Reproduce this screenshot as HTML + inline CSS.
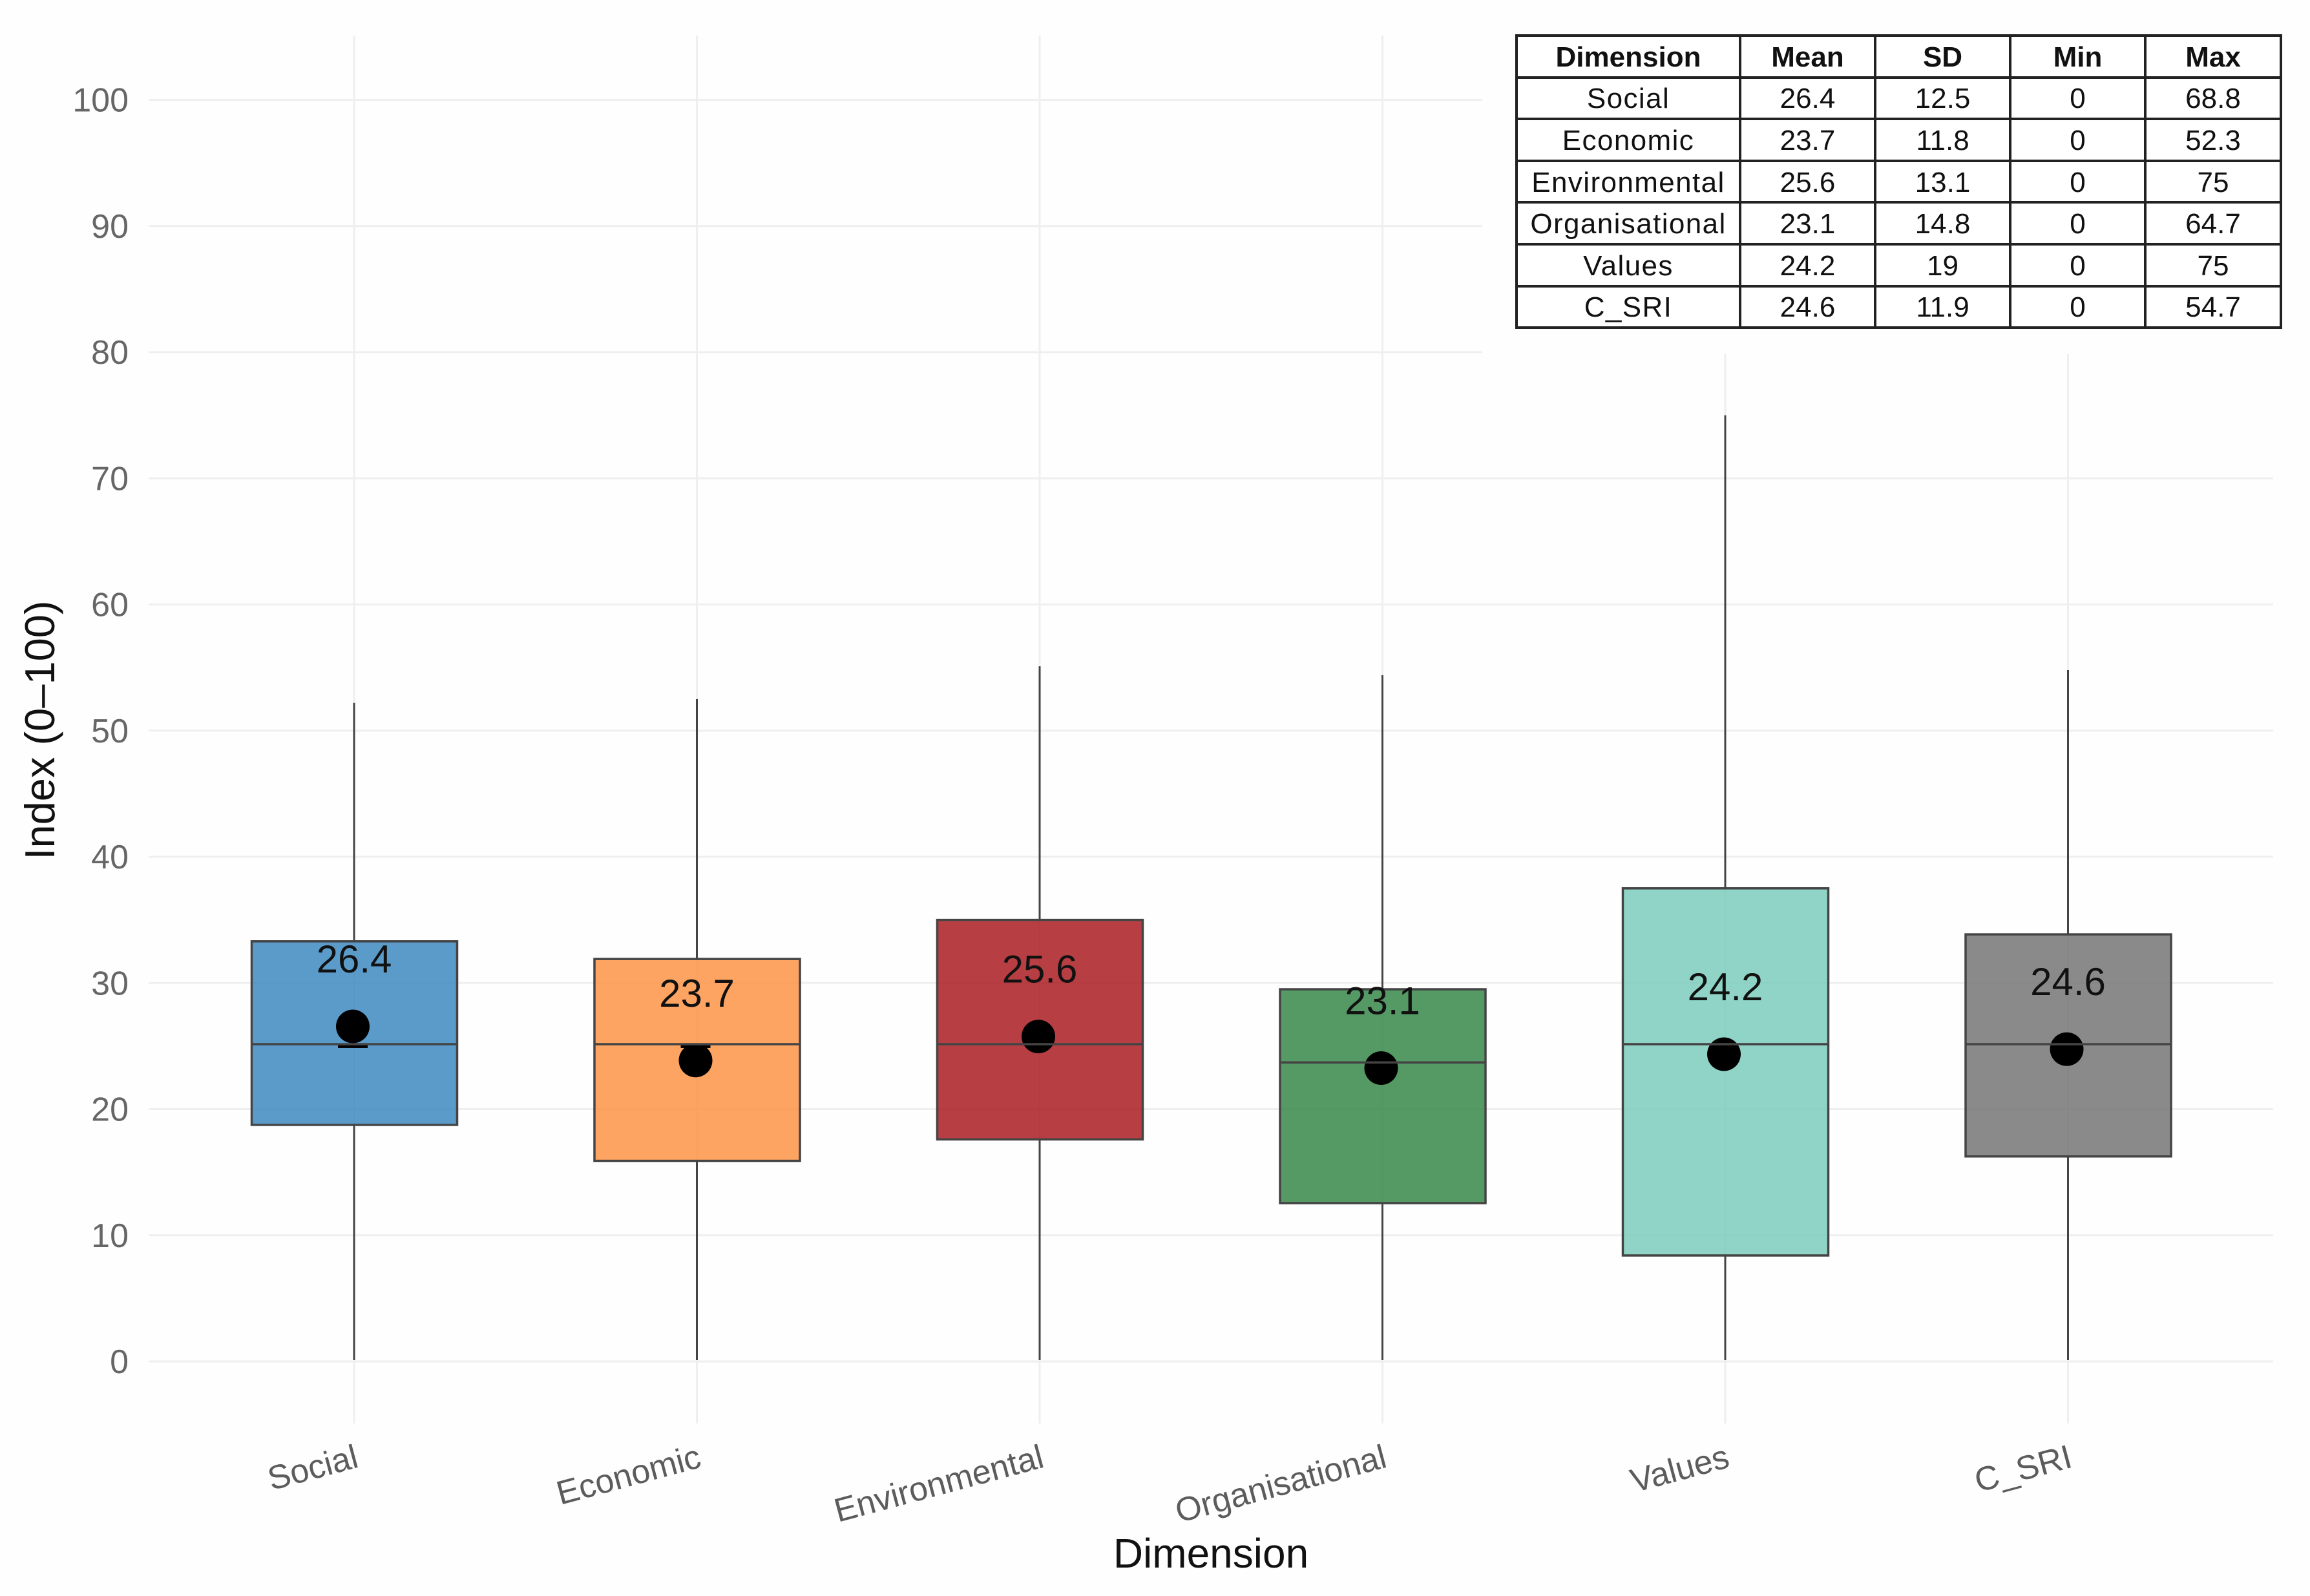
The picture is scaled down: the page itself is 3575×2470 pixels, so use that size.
<!DOCTYPE html>
<html lang="en">
<head>
<meta charset="utf-8">
<title>Index by dimension boxplot</title>
<style>
html,body{margin:0;padding:0;background:#fefefe;}
#stage{position:relative;width:3575px;height:2470px;overflow:hidden;background:#fefefe;font-family:"Liberation Sans",sans-serif;}
#chart{position:absolute;left:0;top:0;}
#table-mask{position:absolute;left:2294px;top:0;width:1281px;height:548px;background:#fefefe;}
#summary-table{position:absolute;left:2345px;top:53px;width:1183px;border-collapse:collapse;table-layout:fixed;background:#fff;color:#111;font-family:"Liberation Sans",sans-serif;font-size:44px;}
#summary-table td,#summary-table th{border:4px solid #222;padding:3px 0 0 0;text-align:center;height:57.6px;line-height:44px;white-space:nowrap;overflow:hidden;}
#summary-table th{font-weight:bold;}
#summary-table td:first-child{letter-spacing:1.4px;}
</style>
</head>
<body>
<div id="stage">
<svg id="chart" width="3575" height="2470" viewBox="0 0 3575 2470" xmlns="http://www.w3.org/2000/svg"></svg>
<div id="table-mask"></div>
<table id="summary-table">
<colgroup><col style="width:346px"><col style="width:209px"><col style="width:209px"><col style="width:209px"><col style="width:210px"></colgroup>
<tr><th>Dimension</th><th>Mean</th><th>SD</th><th>Min</th><th>Max</th></tr>
<tr><td>Social</td><td>26.4</td><td>12.5</td><td>0</td><td>68.8</td></tr>
<tr><td>Economic</td><td>23.7</td><td>11.8</td><td>0</td><td>52.3</td></tr>
<tr><td>Environmental</td><td>25.6</td><td>13.1</td><td>0</td><td>75</td></tr>
<tr><td>Organisational</td><td>23.1</td><td>14.8</td><td>0</td><td>64.7</td></tr>
<tr><td>Values</td><td>24.2</td><td>19</td><td>0</td><td>75</td></tr>
<tr><td>C_SRI</td><td>24.6</td><td>11.9</td><td>0</td><td>54.7</td></tr>
</table>
</div>
<script>
const categories = ["Social", "Economic", "Environmental", "Organisational", "Values", "C_SRI"];
const whiskerLow = [0, 0, 0, 0, 0, 0];
const q1 = [18.75, 15.9, 17.6, 12.55, 8.4, 16.25];
const medians = [25.15, 25.15, 25.15, 23.7, 25.15, 25.15];
const q3 = [33.3, 31.9, 35, 29.5, 37.5, 33.85];
const whiskerHigh = [52.2, 52.5, 55.1, 54.4, 75, 54.8];
const means = [26.4, 23.7, 25.6, 23.1, 24.2, 24.6];
const meanLabels = ["26.4", "23.7", "25.6", "23.1", "24.2", "24.6"];
const yTicks = [0, 10, 20, 30, 40, 50, 60, 70, 80, 90, 100];
const fills = ["#3182bd", "#fd8d3c", "#a50f15", "#2a7f3e", "#74c9b9", "#6d6d6d"];

const NS = "http://www.w3.org/2000/svg";
const svg = document.getElementById("chart");
function xPos(i) { return 548 + i * 530.5; }
function yPos(v) { return 2107 - v * 19.525; }
function slug(s) { return s.toLowerCase().replace(/_/g, "-"); }
function make(tag, attrs, text) {
  const el = document.createElementNS(NS, tag);
  for (const k in attrs) el.setAttribute(k, attrs[k]);
  if (text !== undefined) el.textContent = text;
  svg.appendChild(el);
  return el;
}

yTicks.forEach(function (t) {
  const line = make("line", { x1: 230, x2: 3518, y1: yPos(t), y2: yPos(t), stroke: "#efefef", "stroke-width": 3 });
  
  
  const label = make("text", { x: 199, y: yPos(t) + 18, "text-anchor": "end", "font-size": 52, fill: "#666666" }, String(t));
  
  
});

categories.forEach(function (c, i) {
  const grid = make("line", { x1: xPos(i), x2: xPos(i), y1: 55, y2: 2203, stroke: "#efefef", "stroke-width": 3 });
  
  
});

categories.forEach(function (c, i) {
  const cx = xPos(i);
  const upper = make("line", { x1: cx, x2: cx, y1: yPos(whiskerHigh[i]), y2: yPos(q3[i]), stroke: "#444444", "stroke-width": 3 });
  
  
  const lower = make("line", { x1: cx, x2: cx, y1: yPos(q1[i]), y2: yPos(whiskerLow[i]) - 2, stroke: "#444444", "stroke-width": 3 });
  
  
  const box = make("rect", { x: cx - 158.5, y: yPos(q3[i]), width: 318, height: yPos(q1[i]) - yPos(q3[i]), fill: fills[i], "fill-opacity": 0.8, stroke: "#444444", "stroke-width": 3.5 });
  
  
  const dotY = yPos(means[i]) - 3;
  const dot = make("circle", { cx: cx - 2, cy: dotY, r: 26, fill: "#000000" });
  
  
  if (Math.abs(dotY - yPos(medians[i])) > 20 && Math.abs(dotY - yPos(medians[i])) < 32) {
    const foot = make("rect", { x: cx - 25, y: yPos(medians[i]), width: 46, height: 6, fill: "#000000" });
    
    
  }
  const median = make("line", { x1: cx - 158.5, x2: cx + 159.5, y1: yPos(medians[i]), y2: yPos(medians[i]), stroke: "#444444", "stroke-width": 3.5 });
  
  
  const value = make("text", { x: cx, y: yPos(means[i] + 5.3) + 17, "text-anchor": "middle", "font-size": 60, fill: "#111111" }, meanLabels[i]);
  
  
  const tick = make("text", { x: cx + 9, y: 2270, "text-anchor": "end", "font-size": 52, fill: "#5c5c5c", transform: "rotate(-15 " + (cx + 9) + " 2270)" }, c);
  
  
});

const xTitle = make("text", { x: 1874, y: 2426, "text-anchor": "middle", "font-size": 64, fill: "#111111" }, "Dimension");


const yTitle = make("text", { x: 0, y: 0, "text-anchor": "middle", "font-size": 65, fill: "#111111", transform: "translate(84 1130) rotate(-90)" }, "Index (0–100)");


</script>
</body>
</html>
